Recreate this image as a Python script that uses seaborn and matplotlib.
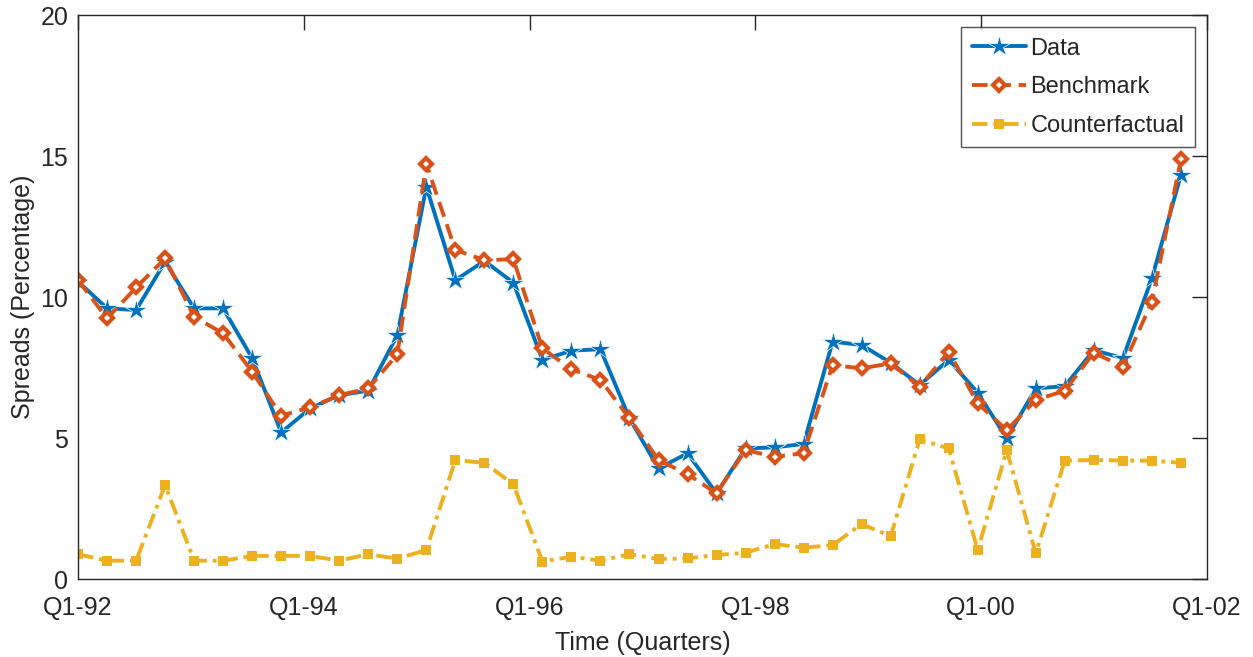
import numpy as np
import pandas as pd
import seaborn as sns
import matplotlib
matplotlib.use("Agg")
import matplotlib.pyplot as plt

# quarterly spreads, Q1-92 onwards (39 quarters)
data = [10.55, 9.6, 9.54, 11.25, 9.6, 9.6, 7.83, 5.2, 6.05, 6.52, 6.68, 8.65,
        13.91, 10.6, 11.28, 10.51, 7.77, 8.1, 8.15, 5.7, 3.92, 4.46, 3.04, 4.63,
        4.67, 4.79, 8.42, 8.3, 7.67, 6.88, 7.77, 6.61, 4.99, 6.76, 6.84, 8.12,
        7.83, 10.66, 14.33]
benchmark = [10.6, 9.24, 10.34, 11.37, 9.3, 8.71, 7.35, 5.79, 6.09, 6.52, 6.76, 7.97,
             14.72, 11.67, 11.31, 11.34, 8.18, 7.44, 7.06, 5.7, 4.22, 3.72, 3.04, 4.57,
             4.34, 4.46, 7.59, 7.47, 7.65, 6.82, 8.06, 6.23, 5.28, 6.35, 6.68, 8.03,
             7.53, 9.83, 14.88]
counterfactual = [0.88, 0.65, 0.65, 3.33, 0.65, 0.65, 0.82, 0.82, 0.82, 0.65, 0.88, 0.72,
                  1.03, 4.22, 4.12, 3.36, 0.62, 0.79, 0.65, 0.88, 0.71, 0.73, 0.85, 0.93,
                  1.24, 1.11, 1.2, 1.95, 1.52, 4.95, 4.63, 1.03, 4.57, 0.91, 4.2, 4.22,
                  4.2, 4.2, 4.12]
tick_labels = ["Q1-92", "Q1-94", "Q1-96", "Q1-98", "Q1-00", "Q1-02"]

quarter = np.arange(len(data))

sns.set_style("white")
plt.rcParams["font.family"] = ["Liberation Sans", "DejaVu Sans"]

fig = plt.figure(figsize=(12.53, 6.57), dpi=100)
ax = fig.add_axes([0.0623, 0.1187, 0.901, 0.8583])

sns.lineplot(x=quarter, y=data, ax=ax, color="#0072BD", linewidth=2.8,
             marker="*", markersize=16, markeredgewidth=0.5, label="Data")
sns.lineplot(x=quarter, y=benchmark, ax=ax, color="#D95319", linewidth=2.8,
             marker="D", markersize=6, markerfacecolor="white", markeredgecolor="#D95319",
             markeredgewidth=3, dashes=(4, 2), label="Benchmark")
sns.lineplot(x=quarter, y=counterfactual, ax=ax, color="#EDB120", linewidth=2.8,
             marker="s", markersize=7, markeredgewidth=0, dashes=(4, 1.5, 1, 1.5),
             label="Counterfactual")

xmax = 38.9
ax.set_xlim(0, xmax)
ax.set_ylim(0, 20)
ax.set_xticks(np.linspace(0, xmax, len(tick_labels)))
ax.set_xticklabels(tick_labels)
ax.set_yticks([0, 5, 10, 15, 20])
ax.tick_params(direction="in", length=11, width=1, top=True, right=True,
               labelsize=18, colors="#262626")
ax.tick_params(axis="x", pad=12)
ax.tick_params(axis="y", pad=7)
for s in ax.spines.values():
    s.set_color("#262626")
    s.set_linewidth(1)

ax.set_xlabel("Time (Quarters)", fontsize=18, color="#262626", labelpad=8)
ax.set_ylabel("Spreads (Percentage)", fontsize=18, color="#262626", labelpad=4)

leg = ax.legend(loc="upper right", bbox_to_anchor=(0.9894, 0.9787), borderaxespad=0,
                fontsize=17, frameon=True, fancybox=False, edgecolor="#262626",
                handlelength=2.3, borderpad=0.45, labelspacing=0.7, handletextpad=0.2)
leg.get_frame().set_linewidth(1)

fig.savefig("out.png", dpi=100)
